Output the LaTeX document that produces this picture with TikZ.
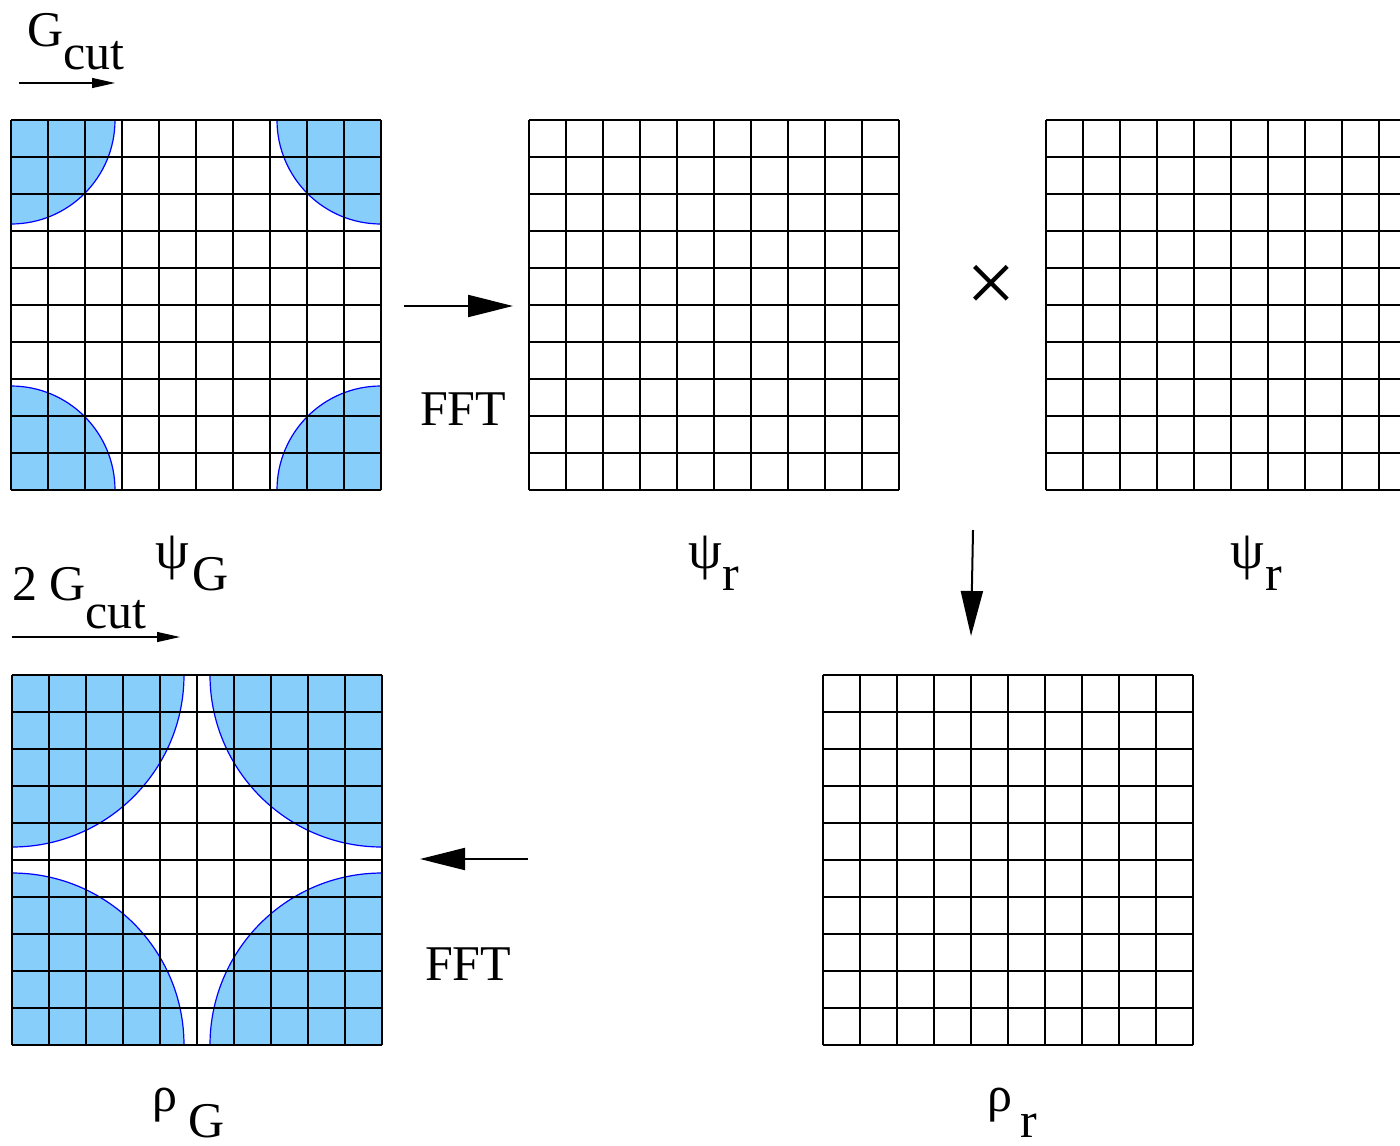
\documentclass[tikz,border=0pt]{standalone}
\usepackage{fontspec}
\setmainfont{Liberation Serif}
\usetikzlibrary{arrows.meta}
\definecolor{skyfill}{RGB}{135,206,250}
\newcommand\cellgrid[2]{%
  \foreach \k in {0,...,10}{%
    \draw[gridline] ({#1+\k*37},#2) -- ({#1+\k*37},{#2+370});
    \draw[gridline] (#1,{#2+\k*37}) -- ({#1+370},{#2+\k*37});
  }}
\begin{document}
\begin{tikzpicture}[x=0.5pt,y=-0.5pt,
  lbl/.style={inner sep=0pt, outer sep=0pt, font=\fontsize{25pt}{30pt}\selectfont},
  gridline/.style={line width=0.7pt, black},
  disk/.style={fill=skyfill, draw=blue, line width=0.6pt},
  bigarrow/.style={line width=1pt, -{Triangle[length=22.5pt,width=11pt]}},
  smallarrow/.style={line width=0.6pt, -{Triangle[length=11.5pt,width=5pt]}}]
\useasboundingbox (0,0) rectangle (1400,1145);
\clip (0,0) rectangle (1400,1145);
\fill[white] (0,0) rectangle (1400,1145);

% grid 1 with quarter disks
\begin{scope}
  \clip (11,120) rectangle (381,490);
  \foreach \cx/\cy in {11/120, 381/120, 11/490, 381/490}
    \filldraw[disk] (\cx,\cy) circle[radius=52pt];
\end{scope}
\cellgrid{11}{120}
\cellgrid{529}{120}
\cellgrid{1046}{120}

% grid 4 with quarter disks
\begin{scope}
  \clip (12,675) rectangle (382,1045);
  \foreach \cx/\cy in {12/675, 382/675, 12/1045, 382/1045}
    \filldraw[disk] (\cx,\cy) circle[radius=86pt];
\end{scope}
\cellgrid{12}{675}
\cellgrid{823}{675}

% labels
\node[lbl, anchor=base west] (g1) at (27,47) {G};
\node[lbl, anchor=base west] (c1) at (63,69) {cut};
\node[lbl, anchor=base west] (g2) at (12,600) {2 G};
\node[lbl, anchor=base west] (c2) at (85,628) {cut};
\node[lbl, anchor=north west, font=\fontsize{27pt}{30pt}\selectfont] (psi1) at (155,536) {ψ};
\node[lbl, anchor=base west] (psi1s) at (192,590) {G};
\node[lbl, anchor=north west, font=\fontsize{27pt}{30pt}\selectfont] (psi2) at (688,536) {ψ};
\node[lbl, anchor=base west] (psi2s) at (722,590) {r};
\node[lbl, anchor=north west, font=\fontsize{27pt}{30pt}\selectfont] (psi3) at (1230,536) {ψ};
\node[lbl, anchor=base west] (psi3s) at (1265,590) {r};
\node[lbl, anchor=north west] (rho1) at (152,1088) {ρ};
\node[lbl, anchor=base west] (rho1s) at (188,1137) {G};
\node[lbl, anchor=north west] (rho2) at (987,1088) {ρ};
\node[lbl, anchor=base west] (rho2s) at (1020,1137) {r};
\node[lbl, anchor=base west] (fft1) at (420,425) {FFT};
\node[lbl, anchor=base west] (fft2) at (425,980) {FFT};
\node[inner sep=0pt, font=\fontsize{44pt}{48pt}\selectfont] (times) at (991,289) {×};

% arrows
\coordinate (gs1) at (19,83);  \coordinate (ge1) at (115,83);
\draw[smallarrow] (gs1) -- (ge1);
\coordinate (gs2) at (12,637); \coordinate (ge2) at (180,637);
\draw[smallarrow] (gs2) -- (ge2);
\coordinate (fs1) at (404,306); \coordinate (fe1) at (513,306);
\draw[bigarrow] (fs1) -- (fe1);
\coordinate (ds) at (973,530); \coordinate (de) at (971,636);
\draw[bigarrow] (ds) -- (de);
\coordinate (ls) at (528,859); \coordinate (le) at (420,859);
\draw[bigarrow] (ls) -- (le);
\end{tikzpicture}
\end{document}
